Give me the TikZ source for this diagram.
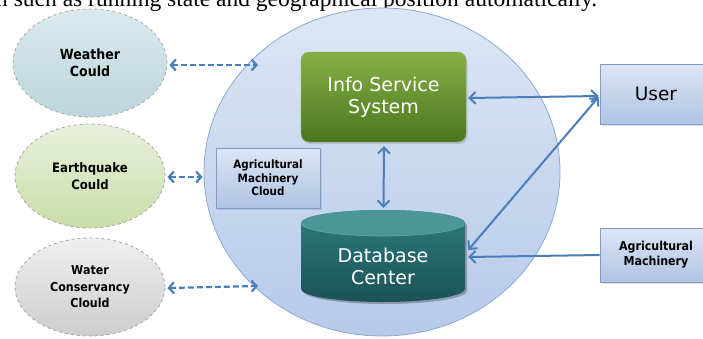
\documentclass[tikz,border=0pt]{standalone}
\usepackage{fontspec}
\setmainfont{DejaVu Sans}
\newfontfamily\serifT{Liberation Serif}
\newfontfamily\tahomaish[FakeStretch=0.9]{DejaVu Sans}
\usetikzlibrary{arrows.meta,shadows,calc,shapes.geometric}
\definecolor{arrowc}{HTML}{4A7EBB}
\definecolor{boxtop}{HTML}{DCE6F5}
\definecolor{boxbot}{HTML}{AFC3E3}
\definecolor{boxline}{HTML}{7F9CC8}
\definecolor{circtop}{HTML}{DCE6F5}
\definecolor{circbot}{HTML}{B6CAE9}
\definecolor{circline}{HTML}{8DA9D2}
\definecolor{greentop}{HTML}{86B044}
\definecolor{greenbot}{HTML}{4A7620}
\definecolor{dbtop}{HTML}{4A9698}
\definecolor{dbmid}{HTML}{2C7B7E}
\definecolor{dbbot}{HTML}{1C5356}
\definecolor{wtop}{HTML}{DAEAEE}
\definecolor{wbot}{HTML}{BCD5DC}
\definecolor{etop}{HTML}{E8F0DB}
\definecolor{ebot}{HTML}{CADDAA}
\definecolor{gtop}{HTML}{EFEFEF}
\definecolor{gbot}{HTML}{CDCDCD}
\tikzset{
  cloudell/.style={ellipse, draw=gray!70, dashed, line width=0.8pt, inner sep=0pt,
     align=center, text=black},
  bluebox/.style={rectangle, draw=boxline, line width=0.8pt, top color=boxtop, bottom color=boxbot,
     align=center, inner sep=0pt, drop shadow={opacity=0.25, shadow xshift=1.5pt, shadow yshift=-1.5pt}},
  dasharrow/.style={draw=arrowc, line width=2.2pt, dash pattern=on 6pt off 3pt,
     {Straight Barb[length=5pt,width=11pt]}-{Straight Barb[length=5pt,width=11pt]}},
  solidarrow/.style={draw=arrowc, line width=2pt},
  tipboth/.style={{Straight Barb[length=6pt,width=12pt]}-{Straight Barb[length=6pt,width=12pt]}},
  tipend/.style={-{Straight Barb[length=6pt,width=12pt]}},
}
\begin{document}
\begin{tikzpicture}[x=1pt,y=-1pt]
\clip (0,0) rectangle (703,338);
\useasboundingbox (0,0) rectangle (703,338);
% cut-off caption line at the top
\node[anchor=base west, inner sep=0pt, font=\serifT\fontsize{23.5}{26}\selectfont] (caption) at (-4,6)
  {n such as running state and geographical position automatically.};
% big circle
\node[ellipse, draw=circline, line width=0.8pt, top color=circtop, bottom color=circbot,
  minimum width=356pt, minimum height=328pt, inner sep=0pt] (circ) at (382,172) {};
% side clouds
\node[cloudell, top color=wtop, bottom color=wbot, minimum width=154pt, minimum height=108pt,
  font=\tahomaish\bfseries\fontsize{14}{17}\selectfont] (weather) at (90,63) {Weather\\Could};
\node[cloudell, top color=etop, bottom color=ebot, minimum width=150pt, minimum height=104pt,
  font=\tahomaish\bfseries\fontsize{13}{17}\selectfont] (quake) at (90,176) {Earthquake\\Could};
\node[cloudell, top color=gtop, bottom color=gbot, minimum width=150pt, minimum height=98pt,
  font=\tahomaish\bfseries\fontsize{12.3}{16.5}\selectfont] (water) at (90,287) {Water\\Conservancy\\Clould};
% inner boxes
\node[bluebox, minimum width=104pt, minimum height=60pt, font=\tahomaish\bfseries\fontsize{11.5}{13.5}\selectfont]
  (amc) at (268,178) {Agricultural\\Machinery\\Cloud};
\node[rectangle, rounded corners=8pt, top color=greentop, bottom color=greenbot, draw=greenbot!60,
  line width=0.4pt, minimum width=165pt, minimum height=90pt, inner sep=0pt, align=center, text=white,
  font=\fontsize{19}{22}\selectfont, drop shadow={opacity=0.3, shadow xshift=1.5pt, shadow yshift=-2pt}]
  (info) at (383.5,97) {Info Service\\System};
% database cylinder
\fill[black, opacity=0.25] (303,225) -- (303,291) arc (180:0:82 and 13) -- (467,225) arc (0:-180:82 and 13) -- cycle;
\shade[top color=dbmid, bottom color=dbbot] (301,223) -- (301,289) arc (180:0:82 and 13) -- (465,223) arc (0:-180:82 and 13) -- cycle;
\fill[dbtop] (383,223) ellipse (82 and 13);
\draw[dbmid!70!white, line width=0.6pt] (301,223) arc (180:0:82 and 13);
\node[minimum width=164pt, minimum height=92pt, inner sep=0pt] (db) at (383,256) {};
\node[align=center, text=white, font=\fontsize{19}{22}\selectfont, inner sep=0pt] (dbtext) at (383,266) {Database\\Center};
% right boxes
\node[bluebox, minimum width=112pt, minimum height=60pt, font=\fontsize{18.5}{22}\selectfont]
  (user) at (656,94) {User};
\node[bluebox, minimum width=112pt, minimum height=54pt, font=\tahomaish\bfseries\fontsize{12.3}{15}\selectfont]
  (am) at (656,255) {Agricultural\\Machinery};
% connector end points inside the circle
\coordinate (cw) at (258,65);
\coordinate (cwa) at (258,286);
% dashed connectors
\draw[dasharrow] ($(weather.east)+(2,2)$) -- (cw);
\draw[dasharrow] ($(quake.east)+(2,1)$) -- ($(amc.west)+(-13,-1)$);
\draw[dasharrow] ($(water.east)+(2,1)$) -- (cwa);
% solid connectors
\draw[solidarrow, tipboth] ($(info.south)+(0.5,4)$) -- ($(db.north)+(0.5,-2)$);
\draw[solidarrow, tipboth] ($(info.east)+(2,1)$) -- ($(user.west)+(-1,2)$);
\draw[solidarrow, tipboth] ($(db.east)+(3,-6)$) -- ($(user.west)+(-1,3)$);
\draw[solidarrow, tipend] (am.west) -- ($(db.east)+(3,1)$);
\end{tikzpicture}
\end{document}
